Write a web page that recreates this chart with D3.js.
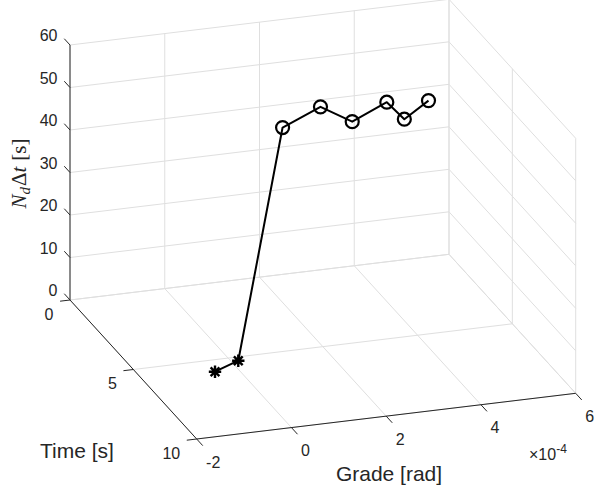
<!DOCTYPE html>
<html>
<head>
<meta charset="utf-8">
<script src="https://cdn.jsdelivr.net/npm/d3@7"></script>
<style>
  html, body { margin: 0; padding: 0; background: #fff; }
  svg { display: block; }
  text { font-family: "Liberation Sans", Arial, Helvetica, sans-serif; fill: rgb(38,38,38); }
</style>
</head>
<body>
<svg id="chart" width="595" height="492"></svg>
<script>
// ---- data ----
const grade = [-0.485e-4, 0.148e-4, 1.15e-4, 1.95e-4, 2.62e-4, 3.35e-4, 3.72e-4, 4.23e-4]; // rad
const time  = [5.78, 5.25, 5, 5, 5, 5, 5, 5];                                           // s
const ndt   = [0, 0, 52.7, 56.5, 52.1, 55.7, 51.2, 54.9];                               // s
const markerType = ["star", "star", "circle", "circle", "circle", "circle", "circle", "circle"];

const gradeTicks = [-2e-4, 0, 2e-4, 4e-4, 6e-4];
const gradeTickLabels = ["-2", "0", "2", "4", "6"];
const timeTicks = [0, 5, 10];
const timeTickLabels = ["0", "5", "10"];
const ndtTicks = [0, 10, 20, 30, 40, 50, 60];
const ndtTickLabels = ["0", "10", "20", "30", "40", "50", "60"];

// ---- scales & projection ----
const sx = d3.scaleLinear().domain([-2e-4, 6e-4]).range([0, 1]);
const sy = d3.scaleLinear().domain([0, 10]).range([0, 1]);
const sz = d3.scaleLinear().domain([0, 60]).range([0, 1]);
const O = [70, 300], EX = [379, -45.7], EY = [126.7, 139], EZ = [0, -255];
function P(x, y, z) {
  const a = sx(x), b = sy(y), c = sz(z);
  return [O[0] + a * EX[0] + b * EY[0] + c * EZ[0],
          O[1] + a * EX[1] + b * EY[1] + c * EZ[1]];
}
const xmin = -2e-4, xmax = 6e-4, ymin = 0, ymax = 10, zmin = 0, zmax = 60;

const svg = d3.select("#chart");
const gridCol = "rgb(223,223,223)";
const axCol = "rgb(38,38,38)";

function seg(g, p1, p2, col, w) {
  g.append("line")
    .attr("x1", p1[0]).attr("y1", p1[1])
    .attr("x2", p2[0]).attr("y2", p2[1])
    .attr("stroke", col).attr("stroke-width", w);
}

// ---- grid ----
const grid = svg.append("g");
// back wall (y = 0)
ndtTicks.forEach(z => seg(grid, P(xmin, ymin, z), P(xmax, ymin, z), gridCol, 1));
gradeTicks.forEach(x => seg(grid, P(x, ymin, zmin), P(x, ymin, zmax), gridCol, 1));
// side wall (x = 6e-4)
ndtTicks.forEach(z => seg(grid, P(xmax, ymin, z), P(xmax, ymax, z), gridCol, 1));
timeTicks.forEach(y => seg(grid, P(xmax, y, zmin), P(xmax, y, zmax), gridCol, 1));
// floor (z = 0)
gradeTicks.forEach(x => seg(grid, P(x, ymin, zmin), P(x, ymax, zmin), gridCol, 1));
timeTicks.forEach(y => seg(grid, P(xmin, y, zmin), P(xmax, y, zmin), gridCol, 1));

// ---- axes ----
const ax = svg.append("g");
seg(ax, P(xmin, ymin, zmin), P(xmin, ymin, zmax), axCol, 1);   // z axis
seg(ax, P(xmin, ymin, zmin), P(xmin, ymax, zmin), axCol, 1);   // time axis
seg(ax, P(xmin, ymax, zmin), P(xmax, ymax, zmin), axCol, 1);   // grade axis

function unit(v) { const l = Math.hypot(v[0], v[1]); return [v[0] / l, v[1] / l]; }
const uY = unit(EY), uX = unit(EX);

// z ticks (point toward -y)
ndtTicks.forEach((z, i) => {
  const p = P(xmin, ymin, z);
  seg(ax, p, [p[0] - uY[0] * 8.5, p[1] - uY[1] * 8.5], axCol, 1);
  ax.append("text").attr("x", p[0] - 12.5).attr("y", p[1] - 9.5)
    .attr("text-anchor", "end").attr("dominant-baseline", "central")
    .attr("font-size", 16).text(ndtTickLabels[i]);
});
// time ticks (point toward -x)
timeTicks.forEach((t, i) => {
  const p = P(xmin, t, zmin);
  seg(ax, p, [p[0] - uX[0] * 10, p[1] - uX[1] * 10], axCol, 1);
  ax.append("text").attr("x", p[0] - 16.5).attr("y", p[1] + 14)
    .attr("text-anchor", "end").attr("dominant-baseline", "central")
    .attr("font-size", 16).text(timeTickLabels[i]);
});
// grade ticks (point toward +y)
gradeTicks.forEach((g, i) => {
  const p = P(g, ymax, zmin);
  seg(ax, p, [p[0] + uY[0] * 9, p[1] + uY[1] * 9], axCol, 1);
  ax.append("text").attr("x", p[0] + 14 + (g < 0 ? 2.5 : 0)).attr("y", p[1] + 23)
    .attr("text-anchor", "middle").attr("dominant-baseline", "central")
    .attr("font-size", 16).text(gradeTickLabels[i]);
});

// exponent label
const ex = ax.append("text").attr("x", 529).attr("y", 460).attr("font-size", 16);
ex.append("tspan").attr("font-size", 16).text("\u00D7");
ex.append("tspan").text("10");
ex.append("tspan").attr("font-size", 12).attr("dy", -7).text("-4");

// axis labels
ax.append("text").attr("x", 389).attr("y", 481).attr("text-anchor", "middle")
  .attr("font-size", 21).text("Grade [rad]");
ax.append("text").attr("x", 77).attr("y", 458).attr("text-anchor", "middle")
  .attr("font-size", 21).text("Time [s]");
const zl = ax.append("text")
  .attr("transform", "translate(26,173.5) rotate(-90)")
  .attr("text-anchor", "middle")
  .style("font-family", "'Liberation Serif', 'DejaVu Serif', serif")
  .attr("font-size", 21);
zl.append("tspan").attr("font-style", "italic").text("N");
zl.append("tspan").attr("font-style", "italic").attr("font-size", 15).attr("dy", 4).text("d");
zl.append("tspan").attr("dy", -4).attr("dx", 1).text("\u0394");
zl.append("tspan").attr("font-style", "italic").text("t");
zl.append("tspan").attr("dx", 6).text("[s]");

// ---- data line & markers ----
const pts = grade.map((g, i) => P(g, time[i], ndt[i]));
svg.append("path")
  .attr("d", d3.line()(pts))
  .attr("fill", "none").attr("stroke", "#000").attr("stroke-width", 2)
  .attr("stroke-linejoin", "round");

const mk = svg.append("g");
pts.forEach((p, i) => {
  if (markerType[i] === "circle") {
    mk.append("circle").attr("cx", p[0]).attr("cy", p[1]).attr("r", 6.5)
      .attr("fill", "none").attr("stroke", "#000").attr("stroke-width", 2.2);
  } else {
    const r = 6.2;
    const d = [];
    for (let k = 0; k < 4; k++) {
      const a = k * Math.PI / 4;
      d.push(`M${p[0] - r * Math.cos(a)},${p[1] - r * Math.sin(a)}L${p[0] + r * Math.cos(a)},${p[1] + r * Math.sin(a)}`);
    }
    mk.append("path").attr("d", d.join("")).attr("stroke", "#000").attr("stroke-width", 2.4);
  }
});
</script>
</body>
</html>
